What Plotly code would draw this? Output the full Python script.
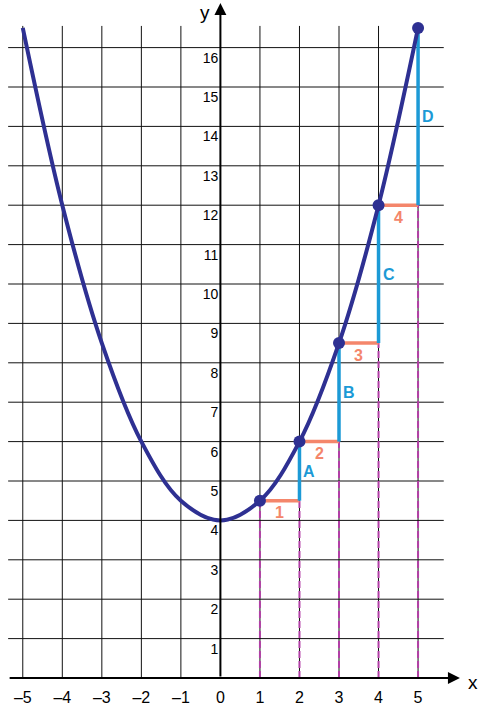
import plotly.graph_objects as go

# ---- data ----
curve_x = [-5, -4, -3, -2, -1, 0, 1, 2, 3, 4, 5]
curve_y = [16.5, 12, 8.5, 6, 4.5, 4, 4.5, 6, 8.5, 12, 16.5]
point_x = [1, 2, 3, 4, 5]
point_y = [4.5, 6, 8.5, 12, 16.5]
step_labels = ["1", "2", "3", "4"]
rise_labels = ["A", "B", "C", "D"]
x_ticks = [-5, -4, -3, -2, -1, 0, 1, 2, 3, 4, 5]
x_tick_text = ["–5", "–4", "–3", "–2", "–1", "0", "1", "2", "3", "4", "5"]
y_ticks = list(range(1, 17))

# ---- style ----
NAVY = "#2E3092"
ORANGE = "#F4866B"
BLUE = "#1C9AD6"
MAGENTA = "#B23FA6"
FONT = "Liberation Sans, Arial, sans-serif"
X_RANGE = [-5.576, 6.567]
Y_RANGE = [0, 17.208]
GRID_X_EXTENT = (-5.37, 5.65)
GRID_Y_TOP = 16.55

fig = go.Figure()

# horizontal grid lines
hx, hy = [], []
for t in y_ticks:
    hx += [GRID_X_EXTENT[0], GRID_X_EXTENT[1], None]
    hy += [t, t, None]
fig.add_trace(go.Scatter(x=hx, y=hy, mode="lines", line=dict(color="#111111", width=1),
                         hoverinfo="skip", showlegend=False))
# vertical grid lines
vx, vy = [], []
for t in x_ticks:
    if t == 0:
        continue
    vx += [t, t, None]
    vy += [0, GRID_Y_TOP, None]
fig.add_trace(go.Scatter(x=vx, y=vy, mode="lines", line=dict(color="#111111", width=1),
                         hoverinfo="skip", showlegend=False))

# magenta dashed drop lines
dx, dy = [], []
for px, py in zip(point_x, point_y):
    dx += [px, px, None]
    dy += [0, py, None]
fig.add_trace(go.Scatter(x=dx, y=dy, mode="lines",
                         line=dict(color=MAGENTA, width=2, dash="7px,3px"),
                         hoverinfo="skip", showlegend=False))

# orange run segments and blue rise segments
ox, oy, bx, by = [], [], [], []
for i in range(len(point_x) - 1):
    ox += [point_x[i], point_x[i + 1], None]
    oy += [point_y[i], point_y[i], None]
    bx += [point_x[i + 1], point_x[i + 1], None]
    by += [point_y[i], point_y[i + 1], None]
fig.add_trace(go.Scatter(x=ox, y=oy, mode="lines", line=dict(color=ORANGE, width=3.5),
                         hoverinfo="skip", showlegend=False))
fig.add_trace(go.Scatter(x=bx, y=by, mode="lines", line=dict(color=BLUE, width=3.5),
                         hoverinfo="skip", showlegend=False))

# axes lines with arrows
fig.add_annotation(x=6.06, y=0, ax=-5.37, ay=0, xref="x", yref="y", axref="x", ayref="y",
                   text="", showarrow=True, arrowhead=2, arrowsize=1.2, arrowwidth=2,
                   arrowcolor="black")
fig.add_annotation(x=0, y=17.13, ax=0, ay=0, xref="x", yref="y", axref="x", ayref="y",
                   text="", showarrow=True, arrowhead=2, arrowsize=1.2, arrowwidth=2,
                   arrowcolor="black")

# curve
fig.add_trace(go.Scatter(x=curve_x, y=curve_y, mode="lines",
                         line=dict(color=NAVY, width=4, shape="spline", smoothing=1.0),
                         hoverinfo="skip", showlegend=False))
# points
fig.add_trace(go.Scatter(x=point_x, y=point_y, mode="markers",
                         marker=dict(color=NAVY, size=12),
                         hoverinfo="skip", showlegend=False))

# segment labels
for i in range(len(step_labels)):
    fig.add_annotation(x=(point_x[i] + point_x[i + 1]) / 2, y=point_y[i], text=step_labels[i],
                       showarrow=False, yshift=-12,
                       font=dict(family=FONT, size=16, color=ORANGE, weight="bold"))
    fig.add_annotation(x=point_x[i + 1], y=(point_y[i] + point_y[i + 1]) / 2,
                       text=rise_labels[i], showarrow=False, xanchor="left", xshift=2,
                       font=dict(family=FONT, size=16, color=BLUE, weight="bold"))

# axis titles
fig.add_annotation(x=6.39, y=0, text="x", showarrow=False, yshift=-4,
                   font=dict(family=FONT, size=19, color="black"))
fig.add_annotation(x=-0.39, y=16.9, text="y", showarrow=False,
                   font=dict(family=FONT, size=19, color="black"))

fig.update_layout(
    width=480, height=706,
    margin=dict(l=0, r=0, t=0, b=28),
    plot_bgcolor="white", paper_bgcolor="white",
    xaxis=dict(range=X_RANGE, showgrid=False, zeroline=False, showline=False,
               tickvals=x_ticks, ticktext=x_tick_text, ticks="", automargin=False,
               ticklabelstandoff=8,
               tickfont=dict(family=FONT, size=16, color="black")),
    yaxis=dict(range=Y_RANGE, showgrid=False, zeroline=False, showline=False,
               anchor="free", position=220.4 / 480, side="left", automargin=False,
               tickvals=y_ticks, ticks="", ticklabelshift=10, ticklabelstandoff=2,
               tickfont=dict(family=FONT, size=14, color="black")),
)

fig.write_html("out.html", config={"displayModeBar": False},
               post_script="document.body.style.margin='0';document.body.style.overflow='hidden';")
